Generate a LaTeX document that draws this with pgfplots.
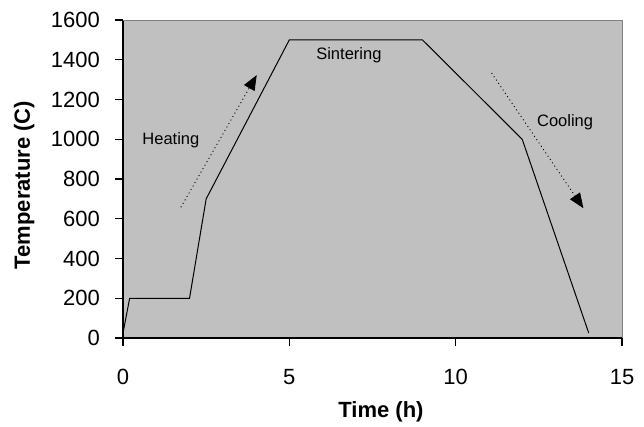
\documentclass[border=0pt]{standalone}
\usepackage{pgfplots}
\pgfplotsset{compat=1.18}
\usepackage{fontspec}
\setmainfont{Liberation Sans}
\usetikzlibrary{arrows.meta}
\definecolor{plotgray}{HTML}{C0C0C0}
\definecolor{framegray}{HTML}{808080}

\begin{document}
\begin{tikzpicture}
\path[use as bounding box] (-123pt,-88pt) rectangle (521pt,338pt);
\begin{axis}[
    at={(0,0)}, anchor=south west,
    scale only axis,
    width=499pt, height=318pt,
    xmin=0, xmax=15,
    ymin=0, ymax=1600,
    xtick={0,5,10,15},
    ytick={0,200,...,1600},
    axis lines*=left,
    axis line style={-, line width=1.4pt, black},
    axis background/.style={fill=plotgray},
    tick align=outside,
    major tick length=8pt,
    tick style={black, line width=1.2pt},
    font=\fontsize{22}{26}\selectfont,
    /pgf/number format/assume math mode=true,
    /pgf/number format/1000 sep={},
    xticklabel style={anchor=north, inner sep=0pt, yshift=-23pt},
    yticklabel style={anchor=east, inner sep=0pt, xshift=-15pt},
    xlabel={\bfseries Time (h)},
    ylabel={\bfseries Temperature (C)},
    xlabel style={at={(axis description cs:0.517,-0.233)}, anchor=center},
    ylabel style={at={(axis description cs:-0.198,0.481)}, anchor=center},
    clip=false,
]

% firing profile
\addplot[black, line width=1pt] coordinates {
    (0, 25)
    (0.2, 200)
    (2, 200)
    (2.5, 700)
    (5, 1500)
    (9, 1500)
    (12, 1000)
    (14, 25)
};

% frame top/right
\draw[framegray, line width=1pt] (rel axis cs:0,1) -- (rel axis cs:1,1) -- (rel axis cs:1,0);

% arrows
\draw[black, line width=0.9pt, dash pattern=on 1pt off 3pt,
      -{Triangle[length=15pt, width=12pt]}]
    (axis cs:1.74,658) -- (axis cs:4.02,1323);
\draw[black, line width=0.9pt, dash pattern=on 1pt off 3pt,
      -{Triangle[length=15pt, width=12pt]}]
    (axis cs:11.08,1333) -- (axis cs:13.84,653);

% labels
\node[font=\fontsize{16.5}{20}\selectfont] at (axis cs:1.44,996) {Heating};
\node[font=\fontsize{16.5}{20}\selectfont] at (axis cs:6.79,1424) {Sintering};
\node[font=\fontsize{16.5}{20}\selectfont] at (axis cs:13.29,1085) {Cooling};

\end{axis}
\end{tikzpicture}
\end{document}
